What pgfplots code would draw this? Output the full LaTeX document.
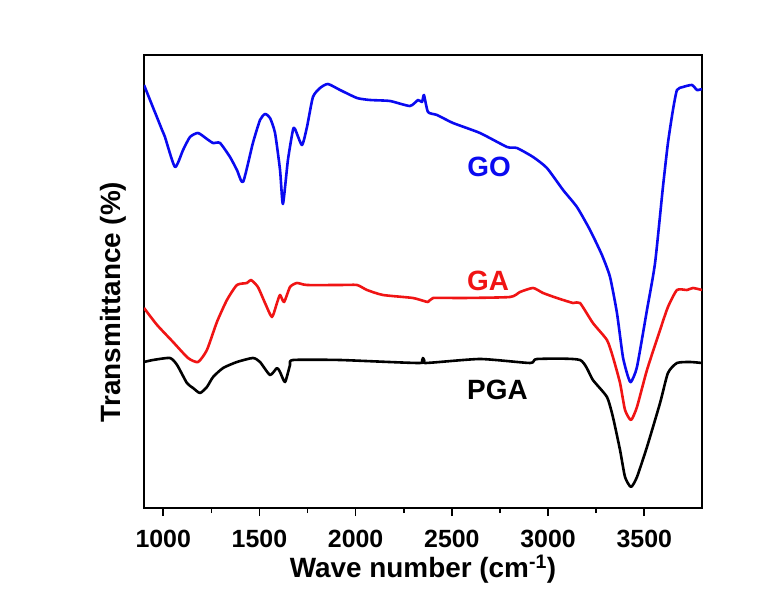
\documentclass[border=0pt]{standalone}
\usepackage{pgfplots}
\pgfplotsset{compat=1.18}
\usepackage{fontspec}
\setmainfont{Liberation Sans}
\definecolor{goblue}{RGB}{10,10,240}
\definecolor{gared}{RGB}{240,20,20}
\begin{document}
\begin{tikzpicture}
\path[use as bounding box] (-144bp,-94bp) rectangle (635bp,508bp);
\begin{axis}[
  at={(0,0)}, anchor=south west,
  scale only axis, width=558bp, height=453bp,
  xmin=900, xmax=3800, ymin=94, ymax=547,
  xtick={1000,1500,2000,2500,3000,3500},
  minor x tick num=1,
  ytick=\empty,
  xtick pos=left,
  tick align=outside,
  major tick length=8bp, minor tick length=5bp,
  every tick/.style={black, line width=1.6bp},
  axis line style={line width=2.4bp},
  /pgf/number format/assume math mode=true,
  /pgf/number format/1000 sep={},
  ticklabel style={font=\fontsize{25}{30}\selectfont\bfseries},
  xticklabel style={yshift=-11bp},
  xlabel={Wave number (cm\textsuperscript{-1})},
  ylabel={Transmittance (\%)},
  label style={font=\fontsize{28}{34}\selectfont\bfseries},
  xlabel style={at={(axis description cs:0.5,-0.1545)}, anchor=base},
  ylabel style={at={(axis description cs:-0.0556,0.455)}, anchor=center},
  every axis plot/.append style={smooth, tension=0.35, line join=round},
]
\addplot[goblue, line width=2.6bp] coordinates {
(900,517) (994,472) (1009,465) (1061,435) (1103,452) (1139,465) (1181,469)
(1227,463) (1259,459) (1295,459) (1347,445) (1383,432) (1415,420) (1466,459)
(1503,482) (1529,488) (1555,484) (1581,469) (1607,432) (1622,398) (1648,442)
(1674,472) (1685,473) (1721,457) (1747,475) (1778,505) (1815,514) (1856,518)
(1919,512) (2007,504) (2075,502) (2178,501) (2282,496) (2324,502) (2345,500)
(2355,507) (2376,490) (2423,487) (2506,479) (2646,469) (2787,455) (2838,454)
(2922,445) (2994,434) (3078,412) (3150,395) (3218,372) (3280,347) (3322,325)
(3358,289) (3389,245) (3416,225) (3431,220) (3462,235) (3514,292) (3556,339)
(3597,415) (3623,459) (3649,492) (3670,512) (3701,515) (3748,517) (3774,512)
(3800,513)
};
\addplot[gared, line width=2.6bp] coordinates {
(900,294) (968,277) (1051,260) (1129,244) (1181,240) (1227,252) (1279,280)
(1331,302) (1383,317) (1435,319) (1456,322) (1492,315) (1529,299) (1565,285)
(1591,299) (1607,307) (1628,300) (1659,315) (1695,319) (1747,317) (1919,317)
(2007,317) (2059,312) (2142,307) (2298,304) (2376,300) (2402,304) (2558,304)
(2802,305) (2854,310) (2922,314) (2974,309) (3046,304) (3130,299) (3166,299)
(3233,279) (3306,262) (3337,245) (3374,219) (3400,192) (3431,182) (3462,195)
(3514,232) (3582,272) (3623,295) (3670,312) (3722,312) (3753,314) (3800,312)
};
\addplot[black, line width=2.6bp] coordinates {
(900,240) (947,242) (1035,244) (1072,237) (1123,219) (1155,214) (1191,209)
(1227,215) (1259,225) (1311,234) (1383,240) (1466,244) (1503,240) (1555,227)
(1591,234) (1607,230) (1633,220) (1659,237) (1674,242) (1919,242) (2334,239)
(2350,244) (2360,239) (2646,243) (2906,239) (2942,243) (3166,242) (3233,222)
(3306,205) (3337,185) (3374,152) (3400,125) (3431,115) (3462,125) (3514,155)
(3582,199) (3623,229) (3670,239) (3738,240) (3800,239)
};
\node[goblue, font=\fontsize{28}{34}\selectfont\bfseries] at (axis cs:2693,435) {GO};
\node[gared, font=\fontsize{28}{34}\selectfont\bfseries] at (axis cs:2688,321) {GA};
\node[black, font=\fontsize{28}{34}\selectfont\bfseries] at (axis cs:2737,212) {PGA};
\end{axis}
\end{tikzpicture}
\end{document}
